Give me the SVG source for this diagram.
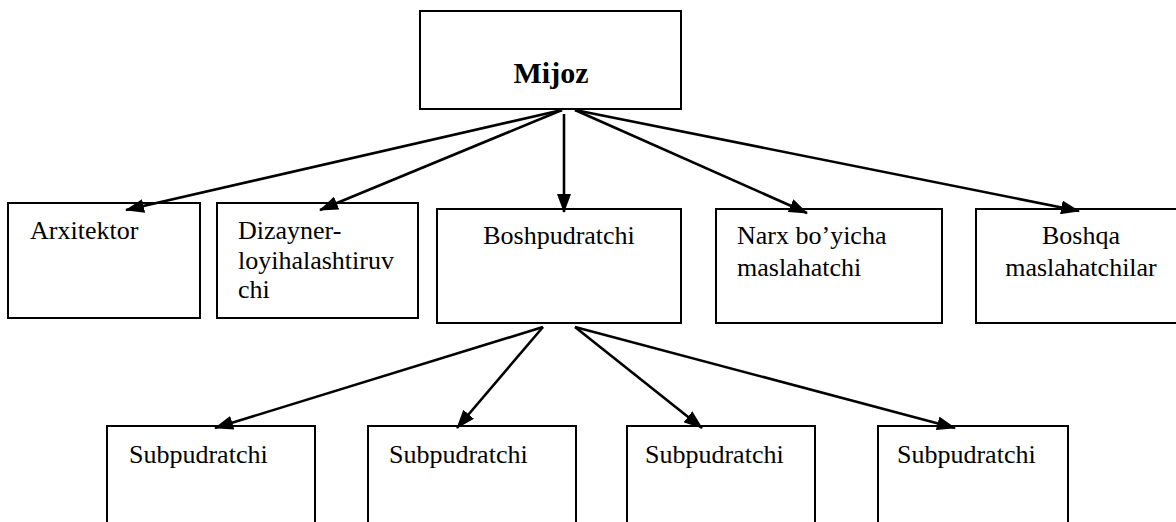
<svg xmlns="http://www.w3.org/2000/svg" width="1176" height="522" viewBox="0 0 1176 522">
<style>
.box{fill:#fff;stroke:#000;stroke-width:2}
.t{font-family:"Liberation Serif","Times New Roman",serif;font-size:26px;fill:#000}
.b{font-weight:bold;font-size:30px}
.c{stroke:#000;stroke-width:2.6;fill:none;marker-end:url(#ah)}
</style>
<defs>
<marker id="ah" markerUnits="userSpaceOnUse" markerWidth="19" markerHeight="14" refX="18" refY="7" orient="auto">
<path d="M0,0 L19,7 L0,14 Z" fill="#000"/>
</marker>
</defs>
<rect width="1176" height="522" fill="#fff"/>
<g id="n-mijoz"><rect class="box" x="420" y="11" width="261" height="98"/><text class="t b" x="551" y="83" text-anchor="middle">Mijoz</text></g>
<g id="n-arxitektor"><rect class="box" x="8" y="203" width="192" height="115"/><text class="t" x="30" y="239">Arxitektor</text></g>
<g id="n-dizayner"><rect class="box" x="217" y="203" width="201" height="115"/><text class="t" x="238" y="239">Dizayner-</text><text class="t" x="238" y="269">loyihalashtiruv</text><text class="t" x="238" y="298">chi</text></g>
<g id="n-bosh"><rect class="box" x="437" y="209" width="244" height="114"/><text class="t" x="559" y="244" text-anchor="middle">Boshpudratchi</text></g>
<g id="n-narx"><rect class="box" x="716" y="209" width="226" height="114"/><text class="t" x="737" y="244">Narx bo’yicha</text><text class="t" x="737" y="276">maslahatchi</text></g>
<g id="n-boshqa"><rect class="box" x="976" y="209" width="215" height="114"/><text class="t" x="1081" y="244" text-anchor="middle">Boshqa</text><text class="t" x="1081" y="276" text-anchor="middle">maslahatchilar</text></g>
<g id="n-sub1"><rect class="box" x="107" y="426" width="208" height="110"/><text class="t" x="129" y="463">Subpudratchi</text></g>
<g id="n-sub2"><rect class="box" x="368" y="426" width="208" height="110"/><text class="t" x="389" y="463">Subpudratchi</text></g>
<g id="n-sub3"><rect class="box" x="627" y="426" width="188" height="110"/><text class="t" x="645" y="463">Subpudratchi</text></g>
<g id="n-sub4"><rect class="box" x="878" y="426" width="190" height="110"/><text class="t" x="897" y="463">Subpudratchi</text></g>
<g id="connectors">
<line class="c" x1="562" y1="110" x2="126" y2="210"/>
<line class="c" x1="562" y1="110" x2="320" y2="210"/>
<line class="c" x1="564" y1="114" x2="564" y2="212"/>
<line class="c" x1="575" y1="110" x2="807" y2="213"/>
<line class="c" x1="575" y1="110" x2="1079" y2="211"/>
<line class="c" x1="543" y1="327" x2="215" y2="428"/>
<line class="c" x1="543" y1="327" x2="457" y2="428"/>
<line class="c" x1="575" y1="327" x2="702" y2="428"/>
<line class="c" x1="575" y1="327" x2="955" y2="428"/>
</g>
</svg>
